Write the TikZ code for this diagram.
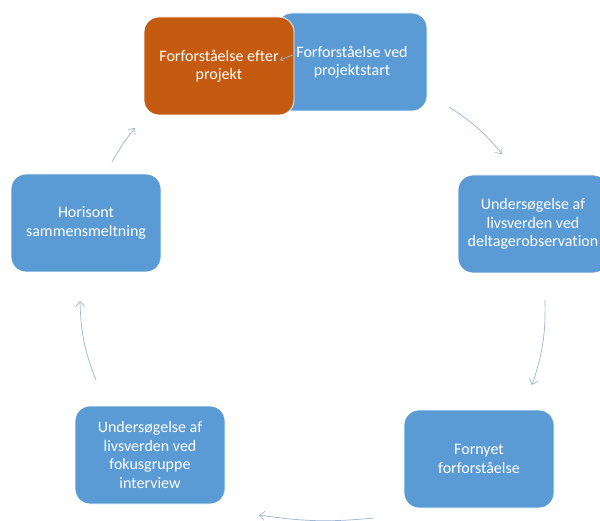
\documentclass[tikz,border=0pt]{standalone}
\usepackage{fontspec}
\setmainfont{Carlito}[Ligatures=NoCommon]
\usetikzlibrary{arrows.meta}
\definecolor{boxblue}{HTML}{5B9BD5}
\definecolor{boxorange}{HTML}{C55A11}
\definecolor{arrowgray}{HTML}{9DB4D2}

\begin{document}
\begin{tikzpicture}[x=1pt, y=-1pt,
        stage/.style={rounded corners=15pt, fill=boxblue, draw=white, line width=0.8pt, text=white,
                minimum width=150pt, minimum height=98pt, align=center, font=\fontsize{16}{18.5}\selectfont},
        flow/.style={arrowgray, line width=0.7pt, -{Straight Barb[length=5pt, width=9pt]}}]
        \useasboundingbox (0,0) rectangle (600,521);
        \foreach \n/\x/\y/\t in {start/352/62/{Forforståelse ved\\projektstart},
                        delt/533/224/{Undersøgelse af\\livsverden ved\\deltagerobservation},
                        fornyet/479/459/{Fornyet\\forforståelse},
                        fokus/150/455/{Undersøgelse af\\livsverden ved\\fokusgruppe\\interview},
                        horisont/86/223/{Horisont\\sammensmeltning}} {
                \node[stage] (\n) at (\x,\y) {\t};
            }
        \node[stage, fill=boxorange] (efter) at (219,66) {Forforståelse efter\\projekt};
        % pile mellem trinene
        \foreach \i/\x/\y in {a1/449/107, b1/502/154, a2/545/300, b2/532/385, a3/374/518,
                        b3/259/515, a4/96/380, b4/80/301, a5/112/162, b5/135/128, s1/293/55, s2/280/60} {
                \coordinate (\i) at (\x,\y);
            }
        \foreach \a/\b/\bend in {a1/b1/9, a2/b2/10, a3/b3/7, a4/b4/10, a5/b5/5} {
                \draw[flow] (\a) to[bend left=\bend] (\b);
            }
        \draw[flow, -{Straight Barb[length=3pt, width=5pt]}] (s1) -- (s2);
    \end{tikzpicture}
\end{document}
